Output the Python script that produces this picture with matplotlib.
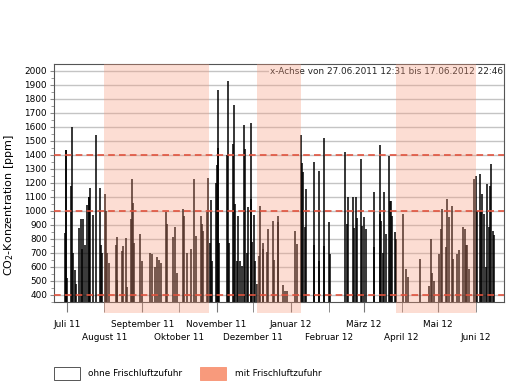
import numpy as np
import pandas as pd
import matplotlib
matplotlib.use("Agg")
import matplotlib.pyplot as plt
from matplotlib.patches import Rectangle

# --- data ---
start = pd.Timestamp("2011-07-01")

# spike position in days after 01.07.2011 and the peak value [ppm]
spike_day = [
    -1.4, -0.8, -0.3, 0.5, 3.5, 4.1, 5.2, 6.6, 7.6, 10.1, 11.5, 12.3, 13.6, 14.8,
    16.9, 18.1, 18.6, 19.1, 21.8, 24.1, 27.1, 27.9, 29.2, 31.5, 32.5, 33.3, 34.7,
    40.2, 41.1, 41.6, 45.7, 46.5, 48.5, 49.5, 52.6, 53.9, 54.7, 55.5, 60.2, 61.6,
    68.4, 69.8, 72.5, 73.9, 76.1, 77.4, 81.6, 82.6, 87.6, 88.9, 90.8, 95.8, 96.6,
    98.6, 102.1, 104.6, 105.9, 110.3, 110.9, 112.2, 115.5, 116.3, 117.7, 118.8,
    119.3, 122.6, 123.4, 124.0, 124.3, 125.3, 131.9, 132.2, 133.3, 136.8, 137.7,
    138.5, 139.6, 140.9, 142.3, 143.7, 145.9, 146.7, 147.8, 148.9, 151.1, 151.6,
    152.4, 153.6, 154.9, 156.5, 158.2, 159.0, 161.0, 161.5, 164.3, 165.6, 169.2,
    170.5, 173.3, 173.8, 177.9, 179.3, 180.9, 187.8, 189.1, 192.7, 193.0, 194.1,
    196.0, 196.8, 202.9, 203.4, 207.0, 207.5, 211.1, 211.6, 215.2, 216.5, 228.8,
    230.2, 231.3, 234.9, 235.7, 237.6, 238.4, 242.0, 242.5, 243.9, 246.1, 252.1,
    252.6, 257.1, 257.6, 258.4, 259.8, 260.4, 262.5, 264.5, 265.5, 266.4, 266.9,
    269.9, 270.7, 276.2, 278.9, 280.3, 289.9, 297.3, 299.0, 300.0, 301.7, 305.8,
    307.2, 308.5, 311.3, 312.6, 314.0, 316.7, 317.5, 320.8, 322.2, 325.7, 326.9,
    327.7, 329.0, 330.4, 334.5, 335.9, 336.7, 339.4, 340.0, 341.3, 342.7, 344.1,
    345.4, 346.8, 347.7, 348.7, 349.6, 350.4,
]
spike_ppm = [
    840, 1436, 1436, 520, 1180, 1600, 700, 580, 480, 880, 945, 730, 945, 760,
    1040, 1100, 1100, 1160, 970, 1545, 1160, 755, 700, 1120, 1000, 700, 630,
    755, 815, 510, 717, 750, 810, 460, 940, 1230, 1055, 770, 836, 640,
    700, 690, 600, 670, 650, 630, 990, 907, 815, 883, 560, 1014, 967,
    700, 730, 1230, 820, 960, 907, 860, 990, 1235, 770, 1080,
    640, 1200, 1330, 1860, 1450, 770, 1400, 1930, 770, 1480, 1752,
    1050, 640, 967, 640, 610, 1614, 1440, 700, 1030, 1085, 1630,
    780, 970, 640, 480, 680, 1038, 730, 770, 710, 870, 930,
    650, 920, 960, 470, 430, 430, 860, 764, 1540, 1343, 1280,
    886, 1157, 1352, 760, 1288, 640, 1521, 752, 919, 693, 1420,
    907, 1098, 1098, 880, 1098, 950, 1371, 895, 955, 871, 1133,
    740, 1467, 979, 931, 700, 1133, 836, 1395, 1074, 1074, 960,
    848, 800, 979, 586, 526, 657, 466, 800, 560, 502, 693,
    871, 1014, 740, 1086, 955, 1038, 660, 693, 720, 883, 871,
    760, 760, 586, 1229, 1252, 1000, 1264, 1000, 1121, 979, 600,
    1193, 883, 1181, 1336, 860, 830,
]

# periods with fresh air supply
fresh_start = ["2011-08-01", "2011-12-04", "2012-03-27"]
fresh_end = ["2011-10-26", "2012-01-09", "2012-06-01"]

limit_lines = [400, 1000, 1400]

month_ticks = pd.date_range("2011-07-01", "2012-06-01", freq="MS")
month_labels = ["Juli 11", "August 11", "September 11", "Oktober 11",
                "November 11", "Dezember 11", "Januar 12", "Februar 12",
                "März 12", "April 12", "Mai 12", "Juni 12"]

x_from, x_to = "2011-06-20 14:00", "2012-06-24"
y_from, y_to = 350, 2048

legend_labels = ["ohne Frischluftzufuhr", "mit Frischluftzufuhr"]
legend_colors = ["white", "#f89a7c"]

# --- plotting ---
plt.rcParams["font.family"] = "DejaVu Sans"
fig = plt.figure(figsize=(5.18, 3.81), dpi=100)
ax = fig.add_axes([54 / 518, 1 - 302 / 381, 450 / 518, 238 / 381])

dates = start + pd.to_timedelta(spike_day, unit="D")
ax.vlines(dates, y_from, spike_ppm, color="black", linewidth=1.1, zorder=2)

for s, e in zip(fresh_start, fresh_end):
    ax.axvspan(pd.Timestamp(s), pd.Timestamp(e), ymin=-0.045, ymax=1,
               facecolor="#f89a7c", alpha=0.33, edgecolor="none",
               clip_on=False, zorder=3)

for v in limit_lines:
    ax.axhline(v, color="#e0533e", linestyle=(0, (4, 2.5)), linewidth=1.2, zorder=4)

ax.text(0.998, 0.988, "x-Achse von 27.06.2011 12:31 bis 17.06.2012 22:46",
        transform=ax.transAxes, ha="right", va="top", fontsize=6.4, color="#222222",
        bbox=dict(facecolor="white", edgecolor="none", pad=0.8), zorder=2.5)

ax.set_xlim(pd.Timestamp(x_from), pd.Timestamp(x_to))
ax.set_ylim(y_from, y_to)

ax.set_yticks(np.arange(400, 2001, 100))
ax.set_yticks(np.arange(350, 2050, 50), minor=True)
ax.grid(axis="y", which="major", color="#c4c4c4", linewidth=1.0, zorder=1)
ax.set_axisbelow(True)
ax.tick_params(axis="y", which="major", length=3, color="#888888", labelsize=6.4, pad=2)
ax.tick_params(axis="y", which="minor", length=2.2, color="#888888")

# staggered month labels: odd months in the first row, even months in the second
ax.set_xticks(month_ticks[::2])
ax.set_xticklabels(month_labels[::2])
ax.set_xticks(month_ticks[1::2], minor=True)
ax.set_xticklabels(month_labels[1::2], minor=True)
ax.tick_params(axis="x", which="major", length=7.2, color="#777777", labelsize=6.4, pad=5.8)
ax.tick_params(axis="x", which="minor", length=7.2, color="#777777", labelsize=6.4, pad=15.2)

for sp in ax.spines.values():
    sp.set_color("#555555")
    sp.set_linewidth(0.8)

fig.text(0.018, 1 - 205 / 381, "CO$_2$-Konzentration [ppm]", rotation=90,
         ha="center", va="center", fontsize=8.0)

# legend at the bottom
for (x0, xt), lab, col in zip([(54, 88), (200, 235)], legend_labels, legend_colors):
    fig.add_artist(Rectangle((x0 / 518, 1 - 380 / 381), 26 / 518, 13 / 381,
                             transform=fig.transFigure, facecolor=col,
                             edgecolor="#555555" if col == "white" else col,
                             linewidth=0.7))
    fig.text(xt / 518, 1 - 373.5 / 381, lab, ha="left", va="center", fontsize=6.4)

fig.savefig("out.png", dpi=100)
